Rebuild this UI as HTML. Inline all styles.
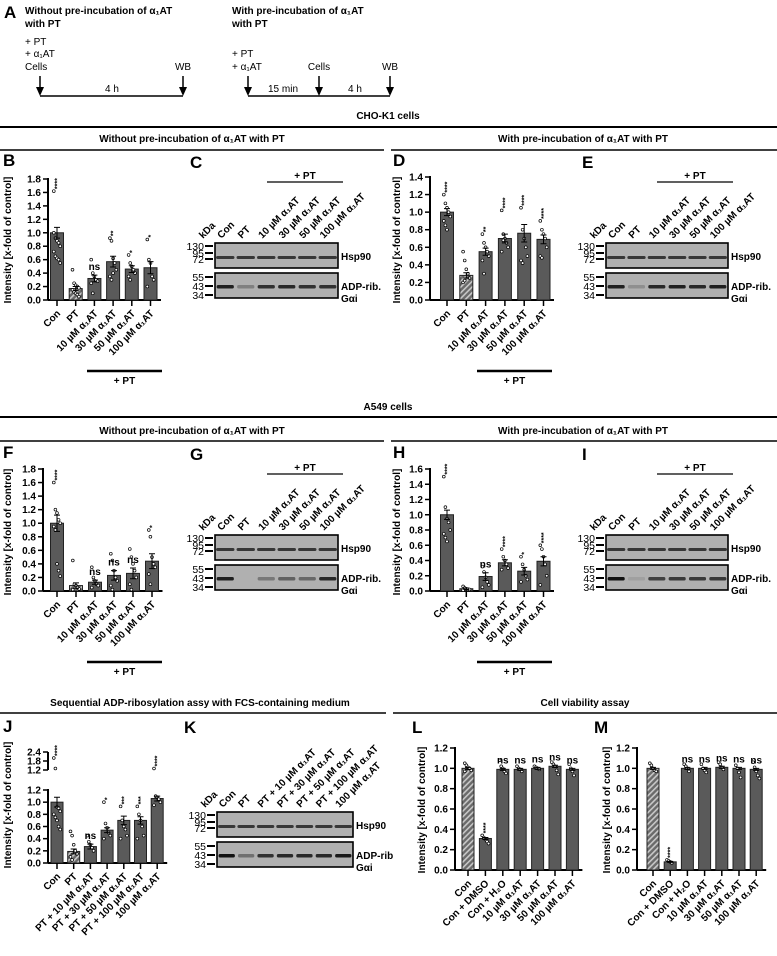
<!DOCTYPE html>
<html><head><meta charset="utf-8">
<style>
html,body{margin:0;padding:0;background:#fff;}
svg{display:block;font-family:"Liberation Sans",Arial,sans-serif;font-weight:bold;}
</style></head>
<body>
<svg id="fig" width="777" height="956" viewBox="0 0 777 956" xmlns="http://www.w3.org/2000/svg">
<defs>
<pattern id="hatch" width="4" height="4" patternUnits="userSpaceOnUse" patternTransform="rotate(45)">
<rect width="4" height="4" fill="#6a6a6a"/><rect width="1.6" height="4" fill="#c8c8c8"/>
</pattern>
</defs>

<!-- Panel A -->
<g>
<text x="4" y="18" font-size="17">A</text>
<text x="25" y="14" font-size="10">Without pre-incubation of α₁AT</text>
<text x="25" y="27" font-size="10">with PT</text>
<text x="25" y="45" font-size="10" font-weight="normal">+ PT</text>
<text x="25" y="57" font-size="10" font-weight="normal">+ α₁AT</text>
<text x="25" y="70" font-size="10" font-weight="normal">Cells</text>
<text x="183" y="70" font-size="10" font-weight="normal" text-anchor="middle">WB</text>
<line x1="40" y1="96" x2="183" y2="96" stroke="#000" stroke-width="1.5"/>
<text x="112" y="92" font-size="10" font-weight="normal" text-anchor="middle">4 h</text>
<text x="232" y="14" font-size="10">With pre-incubation of α₁AT</text>
<text x="232" y="27" font-size="10">with PT</text>
<text x="232" y="57" font-size="10" font-weight="normal">+ PT</text>
<text x="232" y="70" font-size="10" font-weight="normal">+ α₁AT</text>
<text x="319" y="70" font-size="10" font-weight="normal" text-anchor="middle">Cells</text>
<text x="390" y="70" font-size="10" font-weight="normal" text-anchor="middle">WB</text>
<line x1="248" y1="96" x2="390" y2="96" stroke="#000" stroke-width="1.5"/>
<text x="283" y="92" font-size="10" font-weight="normal" text-anchor="middle">15 min</text>
<text x="355" y="92" font-size="10" font-weight="normal" text-anchor="middle">4 h</text>
<g id="arrows"></g>
</g>

<!-- Section headers -->
<text x="388" y="119" font-size="10" text-anchor="middle">CHO-K1 cells</text>
<line x1="0" y1="127" x2="777" y2="127" stroke="#000" stroke-width="2"/>
<text x="192" y="142" font-size="10" text-anchor="middle">Without pre-incubation of α₁AT with PT</text>
<text x="583" y="142" font-size="10" text-anchor="middle">With pre-incubation of α₁AT with PT</text>
<line x1="0" y1="150" x2="384" y2="150" stroke="#000" stroke-width="1.5"/>
<line x1="391" y1="150" x2="777" y2="150" stroke="#000" stroke-width="1.5"/>

<text x="388" y="410" font-size="10" text-anchor="middle">A549 cells</text>
<line x1="0" y1="417" x2="777" y2="417" stroke="#000" stroke-width="2"/>
<text x="192" y="434" font-size="10" text-anchor="middle">Without pre-incubation of α₁AT with PT</text>
<text x="583" y="434" font-size="10" text-anchor="middle">With pre-incubation of α₁AT with PT</text>
<line x1="0" y1="441" x2="384" y2="441" stroke="#000" stroke-width="1.5"/>
<line x1="391" y1="441" x2="777" y2="441" stroke="#000" stroke-width="1.5"/>

<text x="200" y="706" font-size="10" text-anchor="middle">Sequential ADP-ribosylation assy with FCS-containing medium</text>
<text x="585" y="706" font-size="10" text-anchor="middle">Cell viability assay</text>
<line x1="0" y1="713" x2="386" y2="713" stroke="#000" stroke-width="1.5"/>
<line x1="393" y1="713" x2="777" y2="713" stroke="#000" stroke-width="1.5"/>

<g id="charts"></g>
</svg>
<script>
// ---------- data ----------
const catsStd = ["Con","PT","10 µM α₁AT","30 µM α₁AT","50 µM α₁AT","100 µM α₁AT"];
const catsJ = ["Con","PT","PT + 10 µM α₁AT","PT + 30 µM α₁AT","PT + 50 µM α₁AT","PT + 100 µM α₁AT","100 µM α₁AT"];
const catsLM = ["Con","Con + DMSO","Con + H₂O","10 µM α₁AT","30 µM α₁AT","50 µM α₁AT","100 µM α₁AT"];

const bMeans = [1.0,0.17,0.32,0.57,0.46,0.48];
const bErrs  = [0.08,0.03,0.05,0.08,0.05,0.09];
const bSig   = ["****","","ns","**","*","*"];
const bPts = [[1.62,0.92,0.88,0.85,0.8,0.72,0.65,0.62,0.6,0.55,1.0],[0.45,0.25,0.22,0.2,0.18,0.15,0.12,0.1,0.08,0.05],[0.6,0.4,0.35,0.3,0.28,0.25,0.1],[0.92,0.88,0.62,0.55,0.45,0.35,0.3,0.4],[0.67,0.55,0.5,0.45,0.4,0.35,0.3],[0.9,0.6,0.55,0.35,0.3,0.2]];

const dMeans = [1.0,0.28,0.55,0.70,0.76,0.69];
const dErrs  = [0.04,0.03,0.04,0.05,0.1,0.05];
const dSig   = ["****","","**","****","****","****"];
const dPts = [[1.2,1.1,1.05,1.0,0.95,0.9,0.85,0.8],[0.55,0.45,0.35,0.3,0.25,0.2,0.22],[0.75,0.65,0.6,0.55,0.5,0.45,0.3],[1.02,0.75,0.7,0.65,0.6,0.55,0.68],[1.05,0.8,0.7,0.6,0.5,0.45,0.42],[0.9,0.8,0.75,0.7,0.6,0.5,0.48]];

const fMeans = [1.0,0.08,0.13,0.23,0.26,0.44];
const fErrs  = [0.12,0.04,0.03,0.07,0.08,0.11];
const fSig   = ["****","","ns","ns","ns","*"];
const fPts = [[1.6,1.2,1.15,1.05,1.0,0.95,0.9,0.4,0.3,0.22],[0.45,0.1,0.08,0.05,0.03,0.02],[0.35,0.2,0.15,0.1,0.08,0.05],[0.55,0.45,0.3,0.2,0.15,0.08,0.02],[0.62,0.5,0.4,0.3,0.2,0.1,0.02],[0.9,0.8,0.5,0.4,0.35,0.25,0.1]];

const hMeans = [1.0,0.03,0.19,0.37,0.26,0.39];
const hErrs  = [0.06,0.01,0.05,0.04,0.05,0.06];
const hSig   = ["****","","ns","****","*","****"];
const hPts = [[1.5,1.1,0.95,0.9,0.8,0.75,0.7,0.65],[0.06,0.04,0.03,0.02,0.02,0.01],[0.32,0.25,0.18,0.12,0.08,0.05],[0.55,0.45,0.4,0.35,0.3,0.28],[0.45,0.35,0.28,0.2,0.15,0.12],[0.6,0.55,0.45,0.35,0.2,0.08]];

const jMeans = [1.0,0.19,0.27,0.54,0.70,0.70,1.06];
const jErrs  = [0.08,0.04,0.04,0.04,0.07,0.06,0.04];
const jSig   = ["****","","ns","*","***","***","****"];
const jPts = [[2.0,1.3,0.92,0.9,0.85,0.8,0.75,0.7,0.6,0.55],[0.52,0.45,0.3,0.2,0.15,0.1,0.05],[0.45,0.35,0.3,0.25,0.2],[1.0,0.65,0.58,0.5,0.45,0.4],[0.93,0.7,0.6,0.55,0.45,0.4],[0.93,0.8,0.7,0.6,0.45,0.4],[1.3,1.1,1.08,1.05,1.0,0.95]];

const lMeans = [1.0,0.31,0.99,0.99,1.0,1.02,0.99];
const lErrs  = [0.01,0.01,0.01,0.01,0.01,0.01,0.01];
const lSig   = ["","****","ns","ns","ns","ns","ns"];
const lPts = [[1.05,1.03,1.01,1.0,0.98,0.97],[0.34,0.32,0.3,0.28,0.26],[1.08,1.02,1.0,0.97,0.95],[1.02,1.0,0.99,0.97],[1.02,1.01,1.0,0.99],[1.06,1.04,1.02,0.98,0.94],[1.04,1.0,0.97,0.93]];

const mMeans = [1.0,0.08,1.0,1.0,1.01,1.0,0.99];
const mErrs  = [0.01,0.005,0.01,0.01,0.01,0.01,0.01];
const mSig   = ["","****","ns","ns","ns","ns","ns"];
const mPts = [[1.05,1.03,1.0,0.98,0.97],[0.1,0.09,0.08,0.07],[1.04,1.02,1.0,0.97],[1.04,1.0,0.98,0.96],[1.06,1.04,1.01,0.99],[1.03,1.0,0.96,0.91],[1.06,1.01,0.97,0.93,0.9]];

const ticksB = [0,0.2,0.4,0.6,0.8,1.0,1.2,1.4,1.6,1.8];
const ticksD = [0,0.2,0.4,0.6,0.8,1.0,1.2,1.4];
const ticksH = [0,0.2,0.4,0.6,0.8,1.0,1.2,1.4,1.6];
const ticksJ = [0,0.2,0.4,0.6,0.8,1.0,1.2];
const ticksJUp = [1.2,1.8,2.4];
const ticksL = [0,0.2,0.4,0.6,0.8,1.0,1.2];

// blot lane band intensities
const cHsp = [1,1,1,1,1,1],  cGai = [0.9,0.3,0.8,0.85,0.8,0.8];
const eHsp = [1,1,1,1,1,1],  eGai = [0.9,0.2,0.85,0.9,0.85,0.9];
const gHsp = [1,1,1,1,1,1],  gGai = [0.9,0,0.35,0.5,0.45,0.85];
const iHsp = [1,1,1,1,1,1],  iGai = [1,0.1,0.7,0.75,0.75,0.75];
const kHsp = [1,1,1,1,1,1,1], kGai = [1,0.4,0.8,0.85,0.85,0.85,0.95];

// ---------- drawing ----------
const NS = "http://www.w3.org/2000/svg";
const root = document.getElementById('charts');
function mk(tag, attrs, parent, text){
  const e = document.createElementNS(NS, tag);
  for (const k in attrs) e.setAttribute(k, attrs[k]);
  if (text !== undefined) e.textContent = text;
  (parent||root).appendChild(e);
  return e;
}

const arrowG = document.getElementById('arrows');
[40,183,248,319,390].forEach(x=>{
  const l = mk('line',{x1:x,y1:76,x2:x,y2:88,stroke:'#000','stroke-width':1.5},arrowG);
  
  
  const p = mk('path',{d:`M${x-4},87 L${x+4},87 L${x},96 Z`,fill:'#000'},arrowG);
  
  
});

function panelLetter(t,x,y){
  const e = mk('text',{x:x,y:y,'font-size':17},root,t);
  
  
}

function barChart(o){
  const g = mk('g',{});
  
  
  const yv = o.yfn || (v => o.y0 - v/o.vmax*(o.y0-o.y1));
  const n = o.cats.length;
  const xc = i => o.cx0 + i*o.dx;
  const ax = mk('line',{x1:o.ax,y1:o.y1-1,x2:o.ax,y2:o.y0,stroke:'#000','stroke-width':2},g);
   
  o.ticks.forEach(t=>{
    const tl = mk('line',{x1:o.ax-5,y1:yv(t),x2:o.ax,y2:yv(t),stroke:'#000','stroke-width':1.5},g);
     
    const tt = mk('text',{x:o.ax-7,y:yv(t)+3.5,'font-size':10,'text-anchor':'end'},g,t.toFixed(1));
     
  });
  if (o.upper){
    const ua = mk('line',{x1:o.ax,y1:yv(o.upper[o.upper.length-1]),x2:o.ax,y2:yv(o.upper[0]+0.0001),stroke:'#000','stroke-width':2},g);
     
    o.upper.forEach(t=>{
      const y = t===o.upper[0] ? yv(t+0.0001) : yv(t);
      const tl = mk('line',{x1:o.ax-5,y1:y,x2:o.ax,y2:y,stroke:'#000','stroke-width':1.5},g);
       
      const tt = mk('text',{x:o.ax-7,y:y+3.5,'font-size':10,'text-anchor':'end'},g,t.toFixed(1));
       
    });
  }
  const xa = mk('line',{x1:o.ax,y1:o.y0,x2:xc(n-1)+o.bw/2+4,y2:o.y0,stroke:'#000','stroke-width':2},g);
   
  const yt = mk('text',{x:0,y:0,'font-size':10,'text-anchor':'middle',transform:`translate(${o.tx},${o.tyc}) rotate(-90)`},g,'Intensity [x-fold of control]');
   
  for (let i=0;i<n;i++){
    const x = xc(i), m = o.means[i], e = o.errs[i];
    const bar = mk('rect',{x:x-o.bw/2,y:yv(m),width:o.bw,height:o.y0-yv(m),fill:i===o.hatch?'url(#hatch)':'#5a5a5a',stroke:'#222','stroke-width':1},g);
    
    
    o.pts[i].forEach((p,j)=>{
      const off = ((j%5)-2)*1.6;
      const c = mk('circle',{cx:x+off,cy:yv(p),r:1.4,fill:'#fff',stroke:'#000','stroke-width':0.7},g);
       
    });
    const eb = mk('path',{d:`M${x},${yv(m-e)} L${x},${yv(m+e)} M${x-3},${yv(m+e)} L${x+3},${yv(m+e)} M${x-3},${yv(m-e)} L${x+3},${yv(m-e)}`,stroke:'#000','stroke-width':1,fill:'none'},g);
     
    const xt = mk('line',{x1:x,y1:o.y0,x2:x,y2:o.y0+6,stroke:'#000','stroke-width':1.5},g);
     
    const xl = mk('text',{x:0,y:0,'font-size':10,'text-anchor':'end',transform:`translate(${x+4},${o.y0+14}) rotate(-45)`},g,o.cats[i]);
     
    const s = o.sig[i];
    if (s){
      const top = Math.min(yv(Math.max(m+e, ...o.pts[i])), yv(m+e));
      let st;
      if (s==='ns'){
        st = mk('text',{x:x,y:yv(m+e)-5,'font-size':10,'text-anchor':'middle'},g,'ns');
      } else {
        st = mk('text',{x:0,y:0,'font-size':7,transform:`translate(${x+2.5},${top-2}) rotate(-90)`},g,s);
      }
       
    }
  }
  if (o.pt){
    const pl = mk('line',{x1:o.pt[0],y1:o.pt[2],x2:o.pt[1],y2:o.pt[2],stroke:'#000','stroke-width':2.5},g);
     
    const pt = mk('text',{x:(o.pt[0]+o.pt[1])/2,y:o.pt[2]+13,'font-size':10,'text-anchor':'middle'},g,'+ PT');
     
  }
}

function blot(o){
  const g = mk('g',{});
  
  
  const n = o.labels.length, lw = o.w/n;
  const top = o.y;
  const boxes = [[top,25,'hsp90-blot'],[top+30,25,'gai-blot']];
  boxes.forEach(b=>{
    const r = mk('rect',{x:o.x,y:b[0],width:o.w,height:b[1],fill:'#b0b0b0',stroke:'#000','stroke-width':1.6},g);
     
  });
  for (let i=0;i<n;i++){
    const cx = o.x + lw*(i+0.5);
    const hb = mk('rect',{x:cx-lw*0.45,y:top+13,width:lw*0.9,height:3,fill:'#222','fill-opacity':0.85*o.hsp[i],rx:1.5},g);
     
    if (o.gai[i]>0){
      const gb = mk('rect',{x:cx-lw*0.42,y:top+42,width:lw*0.84,height:3.5,fill:'#111','fill-opacity':o.gai[i],rx:1.5},g);
       
    }
    const ll = mk('text',{x:0,y:0,'font-size':10,transform:`translate(${cx-4},${top-4}) rotate(-45)`},g,o.labels[i]);
     
  }
  const kd = mk('text',{x:0,y:0,'font-size':10,transform:`translate(${o.x-12},${top-4}) rotate(-45)`},g,'kDa');
   
  const mks = [['130',3],['95',10],['72',16],['55',34],['43',43],['34',52]];
  mks.forEach(m=>{
    const y = top+m[1];
    const l = mk('line',{x1:o.x-10,y1:y,x2:o.x-2,y2:y,stroke:'#000','stroke-width':2},g);
     
    const t = mk('text',{x:o.x-11,y:y+4,'font-size':10.5,'font-weight':'normal','text-anchor':'end'},g,m[0]);
     
  });
  const h = mk('text',{x:o.x+o.w+3,y:top+17,'font-size':10},g,'Hsp90');
   
  const a = mk('text',{x:o.x+o.w+3,y:top+47,'font-size':10},g,o.adp||'ADP-rib.');
   
  const gl = mk('text',{x:o.x+o.w+3,y:top+59,'font-size':10},g,'Gαi');
   
  if (o.pt){
    const pl = mk('line',{x1:o.pt[0],y1:top-61,x2:o.pt[1],y2:top-61,stroke:'#000','stroke-width':1.2},g);
     
    const pt = mk('text',{x:(o.pt[0]+o.pt[1])/2,y:top-64,'font-size':10,'text-anchor':'middle'},g,'+ PT');
     
  }
}

// CHO-K1
panelLetter('B',3,166); panelLetter('C',190,168);
panelLetter('D',393,166); panelLetter('E',582,168);
barChart({name:'chart-b',cats:catsStd,means:bMeans,errs:bErrs,sig:bSig,pts:bPts,hatch:1,ticks:ticksB,ax:48,y0:300,y1:179,vmax:1.8,cx0:57,dx:18.7,bw:13,tx:11,tyc:240,pt:[87,162,371]});
blot({name:'blot-c',x:215,y:243,w:123,labels:catsStd,hsp:cHsp,gai:cGai,pt:[267,343]});
barChart({name:'chart-d',cats:catsStd,means:dMeans,errs:dErrs,sig:dSig,pts:dPts,hatch:1,ticks:ticksD,ax:430,y0:300,y1:177,vmax:1.4,cx0:447,dx:19.3,bw:13,tx:400,tyc:240,pt:[477,552,371]});
blot({name:'blot-e',x:606,y:243,w:122,labels:catsStd,hsp:eHsp,gai:eGai,pt:[657,733]});

// A549
panelLetter('F',3,458); panelLetter('G',190,460);
panelLetter('H',393,458); panelLetter('I',582,460);
barChart({name:'chart-f',cats:catsStd,means:fMeans,errs:fErrs,sig:fSig,pts:fPts,hatch:1,ticks:ticksB,ax:43,y0:591,y1:469,vmax:1.8,cx0:57,dx:19,bw:13,tx:11,tyc:532,pt:[87,162,662]});
blot({name:'blot-g',x:215,y:535,w:123,labels:catsStd,hsp:gHsp,gai:gGai,pt:[267,343]});
barChart({name:'chart-h',cats:catsStd,means:hMeans,errs:hErrs,sig:hSig,pts:hPts,hatch:1,ticks:ticksH,ax:430,y0:591,y1:469,vmax:1.6,cx0:447,dx:19.3,bw:13,tx:400,tyc:532,pt:[477,552,662]});
blot({name:'blot-i',x:606,y:535,w:122,labels:catsStd,hsp:iHsp,gai:iGai,pt:[657,733]});

// J / K / L / M
panelLetter('J',3,732); panelLetter('K',184,733);
panelLetter('L',412,733); panelLetter('M',594,733);
const jY = v => v<=1.2 ? 863 - v/1.2*73 : 770 - (v-1.2)/1.2*18;
barChart({name:'chart-j',cats:catsJ,means:jMeans,errs:jErrs,sig:jSig,pts:jPts,hatch:1,ticks:ticksJ,upper:ticksJUp,yfn:jY,ax:48,y0:863,y1:790,vmax:1.2,cx0:57,dx:16.7,bw:12,tx:11,tyc:805});
blot({name:'blot-k',x:217,y:812,w:136,labels:catsJ,hsp:kHsp,gai:kGai,adp:'ADP-rib'});
barChart({name:'chart-l',cats:catsLM,means:lMeans,errs:lErrs,sig:lSig,pts:lPts,hatch:0,ticks:ticksL,ax:455,y0:870,y1:748,vmax:1.2,cx0:468,dx:17.4,bw:12,tx:425,tyc:810});
barChart({name:'chart-m',cats:catsLM,means:mMeans,errs:mErrs,sig:mSig,pts:mPts,hatch:0,ticks:ticksL,ax:637,y0:870,y1:748,vmax:1.2,cx0:653,dx:17.2,bw:12,tx:610,tyc:810});
</script>
</body></html>
